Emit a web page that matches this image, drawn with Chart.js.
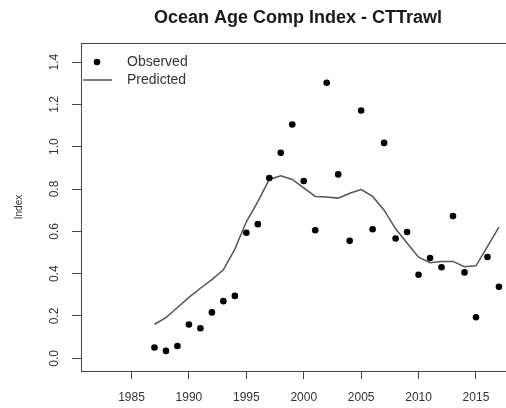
<!DOCTYPE html>
<html>
<head>
<meta charset="utf-8">
<script src="https://cdn.jsdelivr.net/npm/chart.js@4.4.0/dist/chart.umd.min.js"></script>
<style>
  html, body { margin: 0; padding: 0; background: #fff; overflow: hidden; }
  #wrap { width: 506px; height: 408px; overflow: hidden; }
  #chart { display: block; }
</style>
</head>
<body>
<div id="wrap"><canvas id="chart" width="520" height="408"></canvas></div>
<script>
// data
const years = [1987, 1988, 1989, 1990, 1991, 1992, 1993, 1994, 1995, 1996,
  1997, 1998, 1999, 2000, 2001, 2002, 2003, 2004, 2005, 2006,
  2007, 2008, 2009, 2010, 2011, 2012, 2013, 2014, 2015, 2016, 2017];
const observed = [0.051, 0.035, 0.058, 0.160, 0.142, 0.217, 0.270, 0.295, 0.593, 0.634,
  0.852, 0.971, 1.105, 0.838, 0.605, 1.302, 0.869, 0.555, 1.171, 0.610,
  1.018, 0.566, 0.597, 0.395, 0.474, 0.430, 0.672, 0.406, 0.194, 0.479, 0.338];
const predicted = [0.161, 0.192, 0.240, 0.288, 0.331, 0.372, 0.418, 0.516, 0.645, 0.740,
  0.845, 0.862, 0.845, 0.805, 0.765, 0.762, 0.757, 0.780, 0.797, 0.765,
  0.700, 0.612, 0.545, 0.478, 0.452, 0.457, 0.458, 0.433, 0.437, 0.528, 0.620];
const xTicks = [1985, 1990, 1995, 2000, 2005, 2010, 2015];
const yTicks = [0, 0.2, 0.4, 0.6, 0.8, 1.0, 1.2, 1.4];

const font = "'Liberation Sans', Arial, Helvetica, sans-serif";
const textColor = "#333";
const axisColor = "#444";

// box around the plot region (its right side falls outside the picture) and the legend
const rFrame = {
  id: "rFrame",
  afterDraw(chart) {
    const { ctx, chartArea } = chart;
    const a = chartArea;
    ctx.save();
    ctx.strokeStyle = axisColor;
    ctx.lineWidth = 1;
    ctx.strokeRect(Math.round(a.left) + 0.5, Math.round(a.top) + 0.5,
      Math.round(a.right - a.left), Math.round(a.bottom - a.top));

    const ds = chart.data.datasets;
    const x0 = a.left + 16, textX = a.left + 46;
    const rowY = [a.top + 19, a.top + 37];
    ctx.font = "14px " + font;
    ctx.fillStyle = textColor;
    ctx.textBaseline = "middle";
    ctx.fillText(ds[0].label, textX, rowY[0]);
    ctx.fillText(ds[1].label, textX, rowY[1]);

    ctx.fillStyle = ds[0].backgroundColor;
    ctx.beginPath();
    ctx.arc(x0, rowY[0], 3.3, 0, Math.PI * 2);
    ctx.fill();

    ctx.strokeStyle = ds[1].borderColor;
    ctx.lineWidth = ds[1].borderWidth;
    ctx.beginPath();
    ctx.moveTo(x0 - 14, rowY[1]);
    ctx.lineTo(x0 + 15, rowY[1]);
    ctx.stroke();
    ctx.restore();
  }
};

new Chart(document.getElementById("chart"), {
  type: "scatter",
  data: {
    datasets: [
      {
        label: "Observed",
        data: years.map((y, i) => ({ x: y, y: observed[i] })),
        backgroundColor: "#000",
        borderWidth: 0,
        pointRadius: 3.3,
        pointHoverRadius: 3.3
      },
      {
        type: "line",
        label: "Predicted",
        data: years.map((y, i) => ({ x: y, y: predicted[i] })),
        borderColor: "#555",
        borderWidth: 1.5,
        pointRadius: 0,
        tension: 0,
        fill: false
      }
    ]
  },
  options: {
    responsive: false,
    animation: false,
    devicePixelRatio: 1,
    layout: { padding: { left: 0, right: 5, top: 0, bottom: 0 } },
    plugins: {
      legend: { display: false },
      tooltip: { enabled: false },
      title: {
        display: true,
        text: "Ocean Age Comp Index - CTTrawl",
        fullSize: false,
        color: "#1a1a1a",
        font: { family: font, size: 18, weight: "bold" },
        padding: { top: 7, bottom: 14.4 }
      }
    },
    scales: {
      x: {
        type: "linear",
        min: 1980.6,
        max: 2018.4,
        afterBuildTicks: (s) => { s.ticks = xTicks.map(v => ({ value: v })); },
        afterFit: (s) => { s.height = 37; },
        border: { display: false },
        grid: { drawOnChartArea: false, drawTicks: true, tickLength: 8, color: axisColor },
        ticks: {
          autoSkip: false,
          maxRotation: 0,
          padding: 11,
          color: textColor,
          font: { family: font, size: 12 },
          callback: (v) => String(v)
        }
      },
      y: {
        type: "linear",
        min: -0.06,
        max: 1.49,
        afterBuildTicks: (s) => { s.ticks = yTicks.map(v => ({ value: v })); },
        afterFit: (s) => { s.width = 81; },
        border: { display: false },
        grid: { drawOnChartArea: false, drawTicks: true, tickLength: 9, color: axisColor },
        title: {
          display: true,
          text: "Index",
          color: textColor,
          font: { family: font, size: 10 },
          padding: { top: 13, bottom: 0 }
        },
        ticks: {
          minRotation: 90,
          maxRotation: 90,
          crossAlign: "center",
          padding: 9,
          color: textColor,
          font: { family: font, size: 12 },
          callback: (v) => v.toFixed(1)
        }
      }
    }
  },
  plugins: [rFrame]
});
</script>
</body>
</html>
